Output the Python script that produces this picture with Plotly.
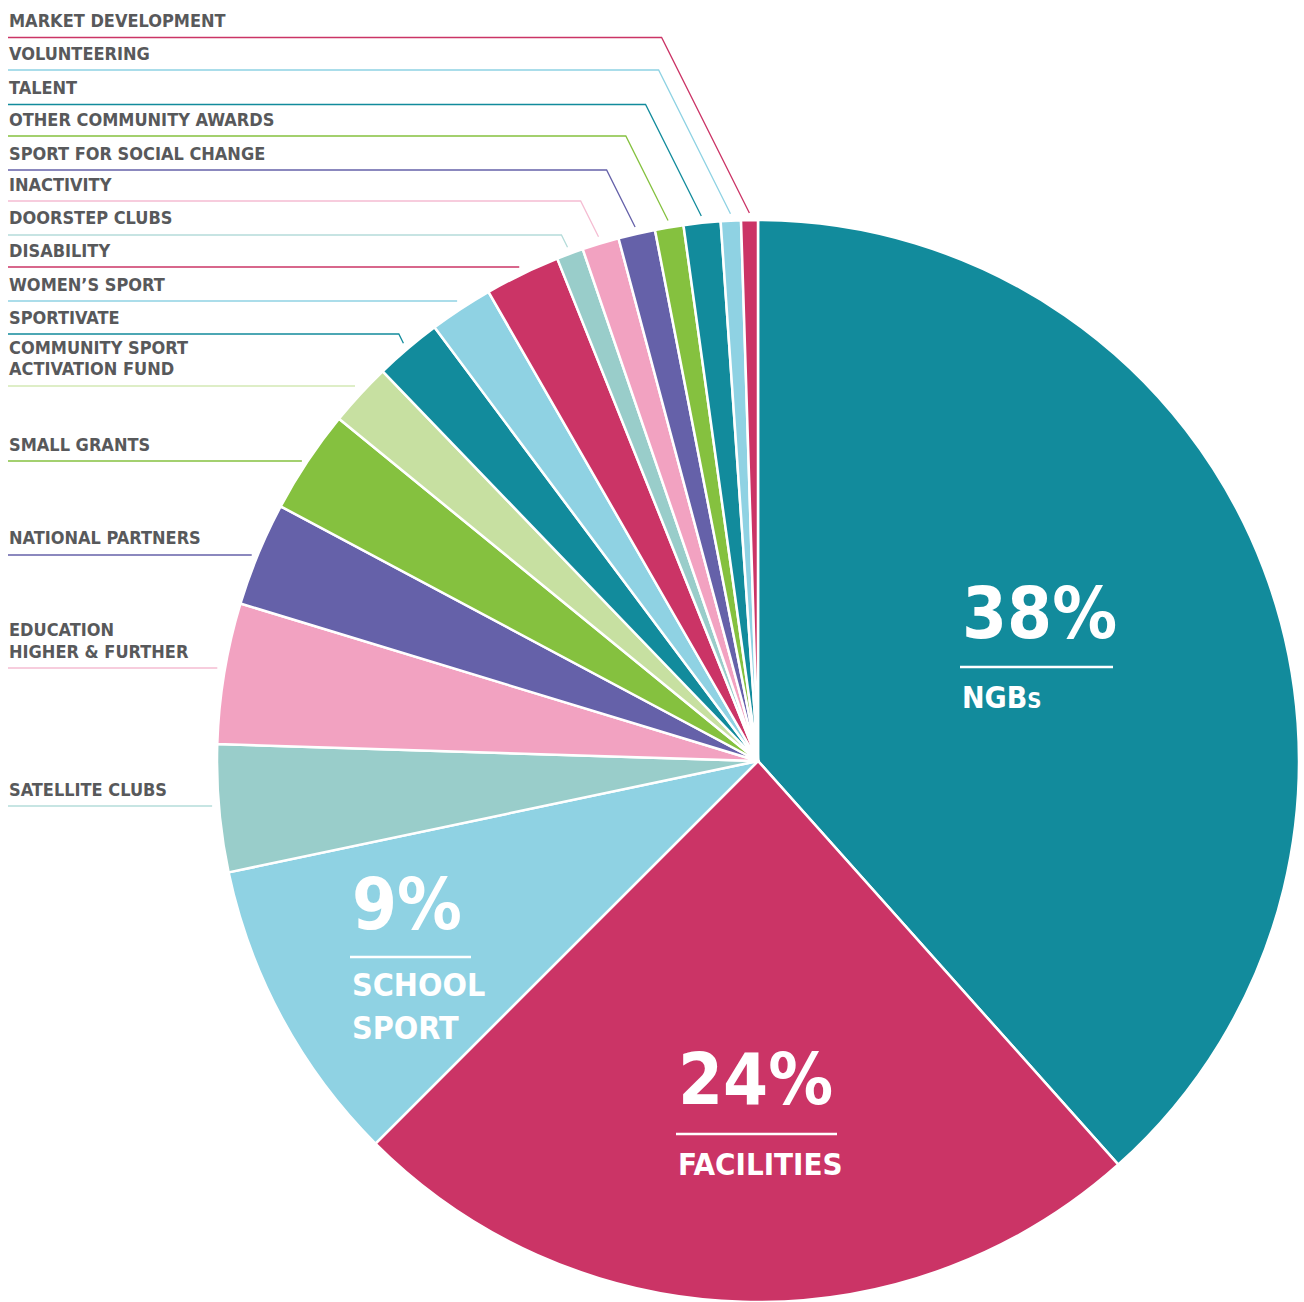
import math
import plotly.graph_objects as go

# ---------------- data ----------------
categories = [
    "NGBs", "Facilities", "School Sport", "Satellite Clubs",
    "Education Higher & Further", "National Partners", "Small Grants",
    "Community Sport Activation Fund", "Sportivate", "Women's Sport",
    "Disability", "Doorstep Clubs", "Inactivity", "Sport for Social Change",
    "Other Community Awards", "Talent", "Volunteering", "Market Development",
]
shares = [38.4, 24.1, 9.2, 3.8, 4.2, 3.1, 3.1, 1.9, 2.0, 1.9,
          2.25, 0.8, 1.1, 1.1, 0.85, 1.1, 0.6, 0.5]

# side labels (top to bottom): category index, text lines
side_label_index = [17, 16, 15, 14, 13, 12, 11, 10, 9, 8, 7, 6, 5, 4, 3]
side_label_lines = [
    ["MARKET DEVELOPMENT"], ["VOLUNTEERING"], ["TALENT"],
    ["OTHER COMMUNITY AWARDS"], ["SPORT FOR SOCIAL CHANGE"], ["INACTIVITY"],
    ["DOORSTEP CLUBS"], ["DISABILITY"], ["WOMEN\u2019S SPORT"], ["SPORTIVATE"],
    ["COMMUNITY SPORT", "ACTIVATION FUND"], ["SMALL GRANTS"],
    ["NATIONAL PARTNERS"], ["EDUCATION", "HIGHER & FURTHER"],
    ["SATELLITE CLUBS"],
]

# ---------------- styling ----------------
W, H = 1304, 1302
TEAL, MAG, LBLUE, MINT, PINK, PURP, GREEN, LGREEN = (
    "#128b9c", "#cb3466", "#8fd2e3", "#99cdca", "#f2a2c1", "#6561a9",
    "#85c13f", "#c7e0a1")
colors = [TEAL, MAG, LBLUE, MINT, PINK, PURP, GREEN, LGREEN, TEAL, LBLUE,
          MAG, MINT, PINK, PURP, GREEN, TEAL, LBLUE, MAG]
line_colors = list(colors)
line_colors[12] = "#f5bcd2"
line_colors[11] = "#b5dcda"
line_colors[4] = "#f5bcd2"
line_colors[3] = "#b5dcda"
line_colors[7] = "#d3e8b5"

FONT = "DejaVu Sans Condensed, DejaVu Sans, sans-serif"
TXT = "#58595b"
label_line_y = [37.5, 70, 104.5, 136, 170, 201, 235, 267, 301, 334, 386,
                461, 555, 668, 806]

# pie geometry (pixels)
dom_x = [216 / W, 1300 / W]
dom_y = [0.0, 1082 / H]
cx = (dom_x[0] + dom_x[1]) / 2 * W
cy = H - (dom_y[0] + dom_y[1]) / 2 * H
rad = min((dom_x[1] - dom_x[0]) * W, (dom_y[1] - dom_y[0]) * H) / 2


def px(x):
    return x / W


def py(y):
    return 1 - y / H


fig = go.Figure()
fig.add_trace(go.Pie(
    labels=categories, values=shares, sort=False, direction="clockwise",
    rotation=0, textinfo="none", hoverinfo="label+percent", showlegend=False,
    marker=dict(colors=colors, line=dict(color="white", width=2.5)),
    domain=dict(x=dom_x, y=dom_y),
))

total = sum(shares)
cum = [sum(shares[:i]) for i in range(len(shares))]

shapes = []
annotations = []

# side labels and leader lines
for idx, lines, ly in zip(side_label_index, side_label_lines, label_line_y):
    theta = math.radians(360 * (cum[idx] + shares[idx] / 2) / total)
    ex = cx + (rad + 7) * math.sin(theta)
    ey = cy - (rad + 7) * math.cos(theta)
    if abs(ey - ly) < 6:
        path = f"M {px(8)},{py(ly)} L {px(ex)},{py(ly)}"
    else:
        kx = ex - 0.5 * (ey - ly)
        path = (f"M {px(8)},{py(ly)} L {px(kx)},{py(ly)} "
                f"L {px(ex)},{py(ey)}")
    shapes.append(dict(type="path", xref="paper", yref="paper", path=path,
                       line=dict(color=line_colors[idx], width=1.3)))
    n = len(lines)
    for k, t in enumerate(lines):
        yc = ly - 17 - 22 * (n - 1 - k)
        annotations.append(dict(
            x=px(7), y=py(yc), xref="paper", yref="paper", text=t,
            showarrow=False, xanchor="left", yanchor="middle",
            font=dict(family=FONT, size=18, color=TXT, weight="bold")))

# big in-slice labels
big = [
    (0, 962, 613.5, 667, 960, 1113,
     ["NGB<span style='font-size:22px'>S</span>"], [697], 30),
    (2, 352, 903.5, 957, 350, 471, ["SCHOOL", "SPORT"], [985, 1027.5], 32),
    (1, 678, 1079, 1134, 676, 837, ["FACILITIES"], [1164], 31),
]
for idx, lx, pcy, ry, rx0, rx1, names, ncs, nsz in big:
    annotations.append(dict(
        x=px(lx - 2), y=py(pcy), xref="paper", yref="paper",
        text=f"{round(shares[idx])}%", showarrow=False,
        xanchor="left", yanchor="middle",
        font=dict(family=FONT, size=72, color="white", weight="bold")))
    shapes.append(dict(type="line", xref="paper", yref="paper",
                       x0=px(rx0), x1=px(rx1), y0=py(ry), y1=py(ry),
                       line=dict(color="white", width=2.5)))
    for t, nc in zip(names, ncs):
        annotations.append(dict(
            x=px(lx - 2), y=py(nc), xref="paper", yref="paper", text=t,
            showarrow=False, xanchor="left", yanchor="middle",
            font=dict(family=FONT, size=nsz, color="white", weight="bold")))

fig.update_layout(
    width=W, height=H, margin=dict(l=0, r=0, t=0, b=0),
    paper_bgcolor="white", plot_bgcolor="white",
    shapes=shapes, annotations=annotations,
)

fig.write_html("out.html", config={"displayModeBar": False},
               post_script="document.body.style.margin='0px';")
